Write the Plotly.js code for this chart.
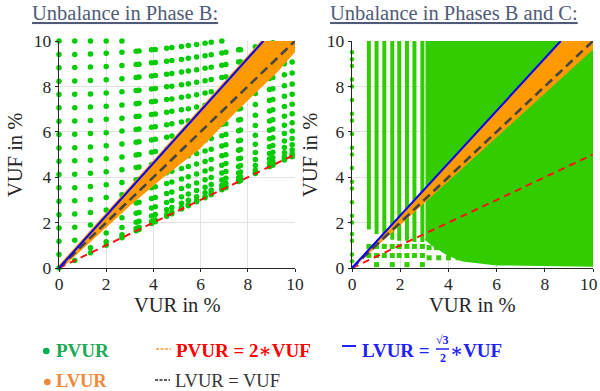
<!DOCTYPE html>
<html>
<head>
<meta charset="utf-8">
<script src="https://cdn.plot.ly/plotly-3.0.1.min.js"></script>
<style>html,body{margin:0;padding:0;background:#fff;}#chart{width:600px;height:391px;}</style>
</head>
<body>
<div id="chart"></div>
<script>
// ---------- Data: Unbalance in Phase B (PVUR points, one column per magnitude step) ----------
const pvurColumnsB = [0, 0.667, 1.333, 2.0, 2.667, 3.27, 3.39, 3.92, 4.08, 4.56, 4.78, 5.19, 5.48, 5.83, 6.19, 6.45, 6.90, 7.07, 7.61, 7.69, 8.32, 8.92, 9.06, 9.55, 9.88];
const vufColumnsB = [
 [0,0.59,1.18,1.76,2.35,2.94,3.53,4.12,4.7,5.29,5.88,6.47,7.06,7.64,8.23,8.82,9.41,10.0],
 [0.33,0.68,1.22,1.8,2.38,2.96,3.54,4.13,4.72,5.3,5.89,6.48,7.06,7.65,8.24,8.83,9.41,10.0],
 [0.67,0.89,1.35,1.89,2.45,3.02,3.59,4.17,4.75,5.33,5.92,6.5,7.09,7.67,8.26,8.85,9.43,10.0],
 [1.0,1.16,1.54,2.03,2.56,3.11,3.67,4.24,4.81,5.39,5.96,6.55,7.13,7.71,8.29,8.88,9.46,10.0],
 [1.33,1.46,1.78,2.21,2.7,3.23,3.77,4.33,4.89,5.46,6.03,6.6,7.18,7.76,8.34,8.92,9.5,10.0],
 [1.64,1.74,2.01,2.41,2.86,3.36,3.89,4.43,4.98,5.54,6.1,6.67,7.24,7.82,8.39,8.97,9.55],
 [1.7,1.79,2.06,2.45,2.9,3.39,3.91,4.45,5.0,5.56,6.12,6.69,7.26,7.83,8.41,8.98,9.56],
 [1.96,2.05,2.29,2.64,3.06,3.53,4.04,4.56,5.1,5.64,6.2,6.76,7.32,7.89,8.46,9.04,9.61],
 [2.04,2.12,2.36,2.7,3.11,3.58,4.08,4.59,5.13,5.67,6.22,6.78,7.35,7.91,8.48,9.05,9.63],
 [2.28,2.36,2.57,2.88,3.28,3.72,4.2,4.71,5.23,5.76,6.31,6.86,7.42,7.98,8.54,9.11,9.68],
 [2.39,2.46,2.66,2.97,3.35,3.79,4.26,4.76,5.28,5.81,6.35,6.9,7.45,8.01,8.57,9.14,9.71],
 [2.6,2.66,2.85,3.14,3.5,3.92,4.38,4.87,5.37,5.89,6.43,6.97,7.52,8.07,8.63,9.19,9.76],
 [2.74,2.8,2.98,3.26,3.61,4.02,4.47,4.95,5.44,5.96,6.49,7.02,7.57,8.12,8.68,9.24,9.8],
 [2.92,2.97,3.14,3.41,3.75,4.14,4.58,5.04,5.53,6.04,6.56,7.09,7.63,8.18,8.73,9.29,9.85],
 [3.1,3.15,3.31,3.56,3.89,4.27,4.69,5.15,5.63,6.13,6.65,7.17,7.71,8.25,8.8,9.35,9.9],
 [3.23,3.28,3.43,3.68,3.99,4.36,4.78,5.23,5.7,6.2,6.71,7.23,7.76,8.3,8.84,9.39,9.95],
 [3.45,3.5,3.65,3.88,4.18,4.53,4.94,5.37,5.83,6.32,6.82,7.33,7.85,8.39,8.93,9.47,10.0],
 [3.54,3.58,3.73,3.95,4.25,4.6,4.99,5.43,5.88,6.36,6.86,7.37,7.89,8.42,8.96,9.5],
 [3.81,3.85,3.98,4.19,4.47,4.81,5.19,5.61,6.05,6.52,7.0,7.5,8.02,8.54,9.07,9.61],
 [3.85,3.89,4.02,4.23,4.51,4.84,5.22,5.63,6.08,6.54,7.03,7.53,8.04,8.56,9.09,9.62],
 [4.16,4.2,4.32,4.51,4.78,5.09,5.45,5.85,6.28,6.73,7.2,7.69,8.19,8.7,9.22,9.75],
 [4.46,4.5,4.61,4.8,5.04,5.34,5.69,6.07,6.48,6.92,7.38,7.86,8.35,8.85,9.36,9.88],
 [4.53,4.57,4.68,4.86,5.1,5.4,5.74,6.12,6.53,6.97,7.42,7.9,8.39,8.89,9.4,9.92],
 [4.76,4.8,4.9,5.08,5.31,5.6,5.93,6.29,6.69,7.12,7.57,8.03,8.51,9.0,9.51],
 [4.9,4.93,5.03,5.2,5.43,5.71,6.03,6.4,6.79,7.21,7.65,8.11,8.59,9.08,9.58]
];
// LVUR band (Phase B) outline
const lvurBandBx = [0, 8.66, 10.0, 10.0, 9.2, 7.5, 5.9, 4.3, 3.0, 1.0, 0];
const lvurBandBy = [0, 10.0, 10.0, 9.65, 8.7, 7.0, 5.3, 4.0, 2.85, 0.96, 0];

// ---------- Data: Unbalance in Phases B and C ----------
const bcZeroColumnVuf = [0.3,0.6,1.2,1.5,2.0,2.3,2.9,3.5,3.8,4.4,5.0,5.3,5.9,6.5,6.8,7.4,8.0,8.3,8.9,9.2,9.5];
const bcColumnX = [0.70, 1.02, 1.34, 1.67, 1.96, 2.28, 2.59, 2.92];
const bcColumnLow = [1.7, 1.5, 1.35, 1.25, 1.2, 1.2, 1.15, 1.15];
const bcColumnHigh = [10.05, 10.05, 10.05, 10.05, 10.05, 10.05, 10.05, 10.05];
const bcLowDotsX = [0.70,1.02,1.34,1.67,1.96,2.28,2.59,2.92, 0.70,1.02,1.34,1.67,1.96,2.28,2.59,2.92, 1.02,1.67,2.28,2.92, 3.2,3.5,3.8,4.1,4.4, 3.2,3.6,4.0,4.4];
const bcLowDotsY = [0.95,0.95,0.95,0.95,0.95,0.95,0.95,0.95, 0.55,0.55,0.55,0.55,0.55,0.55,0.55,0.55, 0.15,0.15,0.15,0.15, 0.9,0.9,0.9,0.9,0.9, 0.45,0.45,0.45,0.45];
const bcAreaX = [3.05, 10.0, 10.0, 6.0, 4.6, 4.0, 3.4, 3.05];
const bcAreaY = [10.05, 10.05, 0.12, 0.18, 0.35, 0.6, 1.0, 1.3];
const lvurBandBCx = [0, 8.66, 10.0, 10.0, 0];
const lvurBandBCy = [0, 10.0, 10.0, 9.67, 0];

// ---------- Reference lines ----------
const refX = [0, 10];
const pvur2VufY = [0, 5];      // PVUR = 2*VUF
const lvurEqVufY = [0, 10];    // LVUR = VUF
const lvurSqrtX = [0, 8.66];   // LVUR = sqrt(3)/2 * VUF
const lvurSqrtY = [0, 10];
const axisTicks = [0, 2, 4, 6, 8, 10];
const axisTickText = ['0', '2', '4', '6', '8', '10'];
const rightXTickText = ['0', '2', '4', '6', '8', ''];   // last label placed as annotation so it stays inside the page

// ---------- build ----------
const gx = [], gy = [];
pvurColumnsB.forEach((x, i) => vufColumnsB[i].forEach(v => { gx.push(x); gy.push(v); }));
const colX = [], colY = [];
bcColumnX.forEach((x, i) => { colX.push(x, x, null); colY.push(bcColumnLow[i], bcColumnHigh[i], null); });

const GREEN_L = 'rgb(0,204,0)';
const GREEN_R = 'rgb(51,204,0)';
const ORANGE = 'rgb(255,153,0)';
const FONT = 'Liberation Serif, DejaVu Serif, serif';

function refLines(xa, ya) {
  return [
    {x: refX, y: pvur2VufY, xaxis: xa, yaxis: ya, mode: 'lines', line: {color: '#ff1010', width: 2, dash: '7px,5px'}, hoverinfo: 'skip'},
    {x: refX, y: lvurEqVufY, xaxis: xa, yaxis: ya, mode: 'lines', line: {color: '#454545', width: 2.6, dash: '9px,5px'}, hoverinfo: 'skip'},
    {x: lvurSqrtX, y: lvurSqrtY, xaxis: xa, yaxis: ya, mode: 'lines', line: {color: '#0000ff', width: 2}, hoverinfo: 'skip'}
  ];
}

const traces = [
  {x: gx, y: gy, xaxis: 'x', yaxis: 'y', mode: 'markers', marker: {color: GREEN_L, size: 5.5}, cliponaxis: false, hoverinfo: 'skip'},
  {x: lvurBandBx, y: lvurBandBy, xaxis: 'x', yaxis: 'y', mode: 'lines', fill: 'toself', fillcolor: ORANGE, line: {color: ORANGE, width: 4}, hoverinfo: 'skip'},
  ...refLines('x', 'y'),
  {x: bcAreaX, y: bcAreaY, xaxis: 'x2', yaxis: 'y2', mode: 'lines', fill: 'toself', fillcolor: GREEN_R, line: {color: GREEN_R, width: 3}, hoverinfo: 'skip'},
  {x: colX, y: colY, xaxis: 'x2', yaxis: 'y2', mode: 'lines', line: {color: GREEN_R, width: 4}, cliponaxis: false, hoverinfo: 'skip'},
  {x: bcZeroColumnVuf.map(() => 0), y: bcZeroColumnVuf, xaxis: 'x2', yaxis: 'y2', mode: 'markers', marker: {color: GREEN_R, size: 4.5}, cliponaxis: false, hoverinfo: 'skip'},
  {x: bcLowDotsX, y: bcLowDotsY, xaxis: 'x2', yaxis: 'y2', mode: 'markers', marker: {color: GREEN_R, size: 5, symbol: 'square'}, cliponaxis: false, hoverinfo: 'skip'},
  {x: lvurBandBCx, y: lvurBandBCy, xaxis: 'x2', yaxis: 'y2', mode: 'lines', fill: 'toself', fillcolor: ORANGE, line: {color: ORANGE, width: 1.5}, hoverinfo: 'skip'},
  ...refLines('x2', 'y2')
];

function axis(domain, anchor, isX, tickText) {
  const a = {
    domain: domain, anchor: anchor, range: [0, 10], tickvals: axisTicks, ticktext: tickText,
    showgrid: true, gridcolor: '#e2e2e2', gridwidth: 1, zeroline: false,
    showline: true, linecolor: '#262626', linewidth: 1.3,
    ticks: 'outside', ticklen: 3, tickcolor: '#262626', ticklabeloverflow: 'allow',
    tickfont: {family: FONT, size: 17.5, color: '#262626'}
  };
  if (isX) a.ticklabelstandoff = -3;
  return a;
}

const px = v => v / 600, py = v => 1 - v / 391;
const ann = (text, x, y, opts) => Object.assign({text: text, x: px(x), y: py(y), xref: 'paper', yref: 'paper', showarrow: false,
  xanchor: 'center', yanchor: 'middle', borderpad: 0,
  font: {family: FONT, size: 19, color: '#262626'}}, opts || {});
const TITLE_FONT = {family: FONT, size: 20.5, color: '#4f5b78'};
const AXT_FONT = {family: FONT, size: 20.5, color: '#262626'};

const annotations = [
  ann('<u>Unbalance in Phase B:</u>', 125, 13, {font: TITLE_FONT}),
  ann('<u>Unbalance in Phases B and C:</u>', 454, 13, {font: TITLE_FONT}),
  ann('VUR in %', 177, 305, {font: AXT_FONT}),
  ann('VUR in %', 472, 305, {font: AXT_FONT}),
  ann('VUF in %', 15, 155, {textangle: -90, font: AXT_FONT}),
  ann('VUF in %', 310, 155, {textangle: -90, font: AXT_FONT}),
  ann('10', 599, 283.5, {xanchor: 'right', font: {family: FONT, size: 17.5, color: '#262626'}}),
  ann('<b>PVUR</b>', 55, 350, {xanchor: 'left', font: {family: FONT, size: 19, color: '#1aaa55'}}),
  ann('<b>LVUR</b>', 55, 381, {xanchor: 'left', font: {family: FONT, size: 18.5, color: '#f08a3a'}}),
  ann('<b>PVUR = 2∗VUF</b>', 175, 350, {xanchor: 'left', font: {family: FONT, size: 19, color: '#ff0000'}}),
  ann('LVUR = VUF', 174, 381, {xanchor: 'left', font: {family: FONT, size: 18.5, color: '#333333'}}),
  ann('<b>LVUR =</b>', 361, 350, {xanchor: 'left', font: {family: FONT, size: 19, color: '#2222ff'}}),
  ann('<b>√3</b>', 442.5, 340, {font: {family: FONT, size: 12, color: '#2222ff'}}),
  ann('<b>2</b>', 442.5, 358, {font: {family: FONT, size: 12, color: '#2222ff'}}),
  ann('<b>∗VUF</b>', 449, 350, {xanchor: 'left', font: {family: FONT, size: 19, color: '#2222ff'}})
];

const shapes = [
  {type: 'circle', xref: 'paper', yref: 'paper', x0: px(43), x1: px(49.6), y0: py(354.3), y1: py(347.7), fillcolor: '#00b050', line: {width: 0}},
  {type: 'circle', xref: 'paper', yref: 'paper', x0: px(44), x1: px(50.6), y0: py(385.3), y1: py(378.7), fillcolor: '#f08a3a', line: {width: 0}},
  {type: 'line', xref: 'paper', yref: 'paper', x0: px(156), x1: px(171), y0: py(349), y1: py(349), line: {color: '#ff9933', width: 1.3, dash: '3px,1.5px'}},
  {type: 'line', xref: 'paper', yref: 'paper', x0: px(155), x1: px(170), y0: py(380), y1: py(380), line: {color: '#222222', width: 1.5, dash: '3px,1.5px'}},
  {type: 'line', xref: 'paper', yref: 'paper', x0: px(342), x1: px(356), y0: py(346), y1: py(346), line: {color: '#2222ff', width: 2}},
  {type: 'line', xref: 'paper', yref: 'paper', x0: px(436), x1: px(449), y0: py(349), y1: py(349), line: {color: '#2222ff', width: 1.5}}
];

const layout = {
  width: 600, height: 391, margin: {l: 0, r: 0, t: 0, b: 0},
  paper_bgcolor: '#ffffff', plot_bgcolor: '#ffffff', showlegend: false,
  xaxis: axis([59 / 600, 295 / 600], 'y', true, axisTickText),
  yaxis: axis([1 - 268 / 391, 1 - 41 / 391], 'x', false, axisTickText),
  xaxis2: axis([352 / 600, 593 / 600], 'y2', true, rightXTickText),
  yaxis2: axis([1 - 268 / 391, 1 - 41 / 391], 'x2', false, axisTickText),
  annotations: annotations, shapes: shapes
};

Plotly.newPlot('chart', traces, layout, {staticPlot: true, displayModeBar: false});
</script>
</body>
</html>
